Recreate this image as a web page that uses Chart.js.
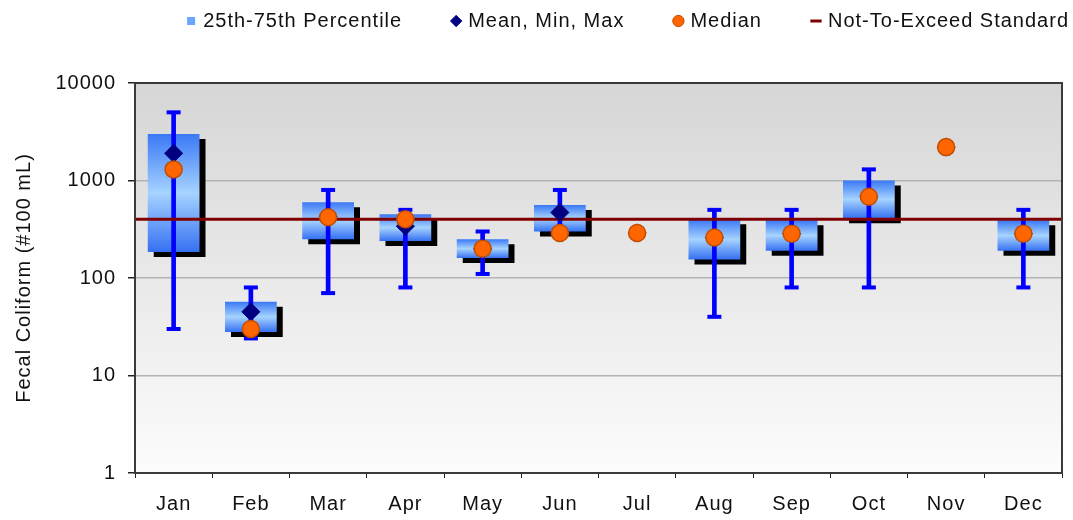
<!DOCTYPE html>
<html lang="en">
<head>
<meta charset="UTF-8">
<title>Fecal Coliform by month</title>
<style>
  html, body { margin: 0; padding: 0; background: #fff; }
  #wrap { width: 1073px; height: 520px; }
</style>
</head>
<body>
<div id="wrap"><canvas id="myChart" width="1073" height="520"></canvas></div>
<script src="https://cdn.jsdelivr.net/npm/chart.js@4.4.1/dist/chart.umd.min.js"></script>
<script>
    var months = ['Jan', 'Feb', 'Mar', 'Apr', 'May', 'Jun', 'Jul', 'Aug', 'Sep', 'Oct', 'Nov', 'Dec']
    var p25 = [185, 28, 250, 240, 160, 300, null, 155, 190, 410, null, 190]
    var p75 = [3000, 57, 600, 450, 250, 560, null, 400, 390, 1000, null, 390]
    var minVals = [30, 24, 70, 80, 110, 290, null, 40, 80, 80, null, 80]
    var maxVals = [5000, 80, 800, 500, 300, 800, null, 500, 500, 1300, null, 500]
    var means = [1900, 45, 430, 340, 200, 470, 290, 260, 285, 680, 2200, 285]
    var medians = [1300, 30, 420, 400, 200, 290, 290, 260, 285, 680, 2200, 285]
    var standard = 400
    var yTicks = [1, 10, 100, 1000, 10000]

    var FONT = "'Liberation Sans', Arial, sans-serif"
    var TXT = '#111'
    var LEG_PAD = 52

    function boxGradient(c) {
        var r = c.raw
        var chart = c.chart
        if (!r || !chart.chartArea || !chart.scales.y) return '#6aa8ff'
        var top = chart.scales.y.getPixelForValue(r[1])
        var bot = chart.scales.y.getPixelForValue(r[0])
        if (!isFinite(top) || !isFinite(bot) || top === bot) return '#6aa8ff'
        var g = chart.ctx.createLinearGradient(0, top, 0, bot)
        g.addColorStop(0, '#3a78f5')
        g.addColorStop(0.5, '#a6d3ff')
        g.addColorStop(1, '#3570f2')
        return g
    }

    var boxes = months.map((m, i) => p25[i] == null ? null : [p25[i], p75[i]])
    var whiskers = months.map((m, i) => minVals[i] == null ? null : [minVals[i], maxVals[i]])

    // frame, plot background, shadow under the boxes, legend placement
    var decor = {
        id: 'decor',
        beforeInit(chart) {
            var fit = chart.legend.fit
            chart.legend.fit = function () {
                fit.call(this)
                this.height = 83
            }
        },
        beforeLayout(chart) {
            chart.ctx.letterSpacing = '1px'
        },
        afterLayout(chart) {
            // wide gaps between legend items but keep it tight to the top/right
            chart.legend.top = 11 - LEG_PAD
            chart.legend.right = 1069 + LEG_PAD
        },
        beforeDraw(chart) {
            var a = chart.chartArea
            var ctx = chart.ctx
            ctx.letterSpacing = '1px'
            var g = ctx.createLinearGradient(0, a.top, 0, a.bottom)
            g.addColorStop(0, '#d6d6d6')
            g.addColorStop(1, '#fcfcfc')
            ctx.save()
            ctx.fillStyle = g
            ctx.fillRect(a.left, a.top, a.right - a.left, a.bottom - a.top)
            ctx.restore()
        },
        beforeDatasetDraw(chart, args) {
            if (chart.data.datasets[args.index].id !== 'box') return
            var ctx = chart.ctx
            ctx.save()
            ctx.shadowColor = '#000'
            ctx.shadowOffsetX = 6
            ctx.shadowOffsetY = 5
            ctx.shadowBlur = 0
        },
        afterDatasetDraw(chart, args) {
            if (chart.data.datasets[args.index].id !== 'box') return
            chart.ctx.restore()
        },
        afterDraw(chart) {
            var a = chart.chartArea
            var ctx = chart.ctx
            ctx.save()
            ctx.strokeStyle = '#3a3a3a'
            ctx.lineWidth = 2
            ctx.strokeRect(a.left, a.top, a.right - a.left, a.bottom - a.top)
            ctx.restore()
        }
    }

    var ctx = document.getElementById('myChart')
    var myChart = new Chart(ctx, {
        type: 'bar',
        data: {
            labels: months,
            datasets: [{
                id: 'box',
                label: '25th-75th Percentile',
                data: boxes,
                backgroundColor: boxGradient,
                borderWidth: 0,
                grouped: false,
                categoryPercentage: 1,
                barPercentage: 0.67,
                order: 5
            }, {
                label: 'whisker',
                data: whiskers,
                backgroundColor: '#0000ff',
                borderWidth: 0,
                grouped: false,
                barThickness: 4,
                order: 4
            }, {
                type: 'line',
                label: 'maxCap',
                data: maxVals,
                showLine: false,
                pointStyle: 'line',
                pointRadius: 7,
                pointBorderWidth: 4,
                pointBorderColor: '#0000ff',
                order: 3
            }, {
                type: 'line',
                label: 'minCap',
                data: minVals,
                showLine: false,
                pointStyle: 'line',
                pointRadius: 7,
                pointBorderWidth: 4,
                pointBorderColor: '#0000ff',
                order: 3
            }, {
                type: 'line',
                label: 'Not-To-Exceed Standard',
                xAxisID: 'x2',
                data: [{ x: 0, y: standard }, { x: 12, y: standard }],
                borderColor: '#800000',
                borderWidth: 3,
                pointRadius: 0,
                order: 2
            }, {
                type: 'line',
                label: 'Mean, Min, Max',
                data: means,
                showLine: false,
                pointStyle: 'rectRot',
                pointRadius: 9,
                pointBackgroundColor: '#000080',
                pointBorderColor: '#000080',
                pointBorderWidth: 1,
                order: 1
            }, {
                type: 'line',
                label: 'Median',
                data: medians,
                showLine: false,
                pointStyle: 'circle',
                pointRadius: 8.5,
                pointBackgroundColor: '#ff6600',
                pointBorderColor: '#c24d00',
                pointBorderWidth: 1.5,
                order: 0
            }]
        },
        options: {
            responsive: false,
            animation: false,
            devicePixelRatio: 1,
            layout: { padding: { left: 12, right: 7, top: 0, bottom: 0 } },
            plugins: {
                tooltip: { enabled: false },
                legend: {
                    position: 'top',
                    align: 'end',
                    labels: {
                        font: { family: FONT, size: 20 },
                        color: TXT,
                        usePointStyle: true,
                        boxWidth: 4,
                        boxHeight: 8,
                        padding: LEG_PAD,
                        generateLabels: function () {
                            return [
                                { text: '25th-75th Percentile', pointStyle: 'rect', fillStyle: '#6aa8ff', strokeStyle: '#6aa8ff', lineWidth: 0, fontColor: TXT, datasetIndex: 0 },
                                { text: 'Mean, Min, Max', pointStyle: 'rectRot', fillStyle: '#000080', strokeStyle: '#000080', lineWidth: 1, fontColor: TXT, datasetIndex: 5 },
                                { text: 'Median', pointStyle: 'circle', fillStyle: '#ff6600', strokeStyle: '#c24d00', lineWidth: 1, fontColor: TXT, datasetIndex: 6 },
                                { text: 'Not-To-Exceed Standard', pointStyle: 'line', fillStyle: '#800000', strokeStyle: '#800000', lineWidth: 3, fontColor: TXT, datasetIndex: 4 }
                            ]
                        }
                    }
                }
            },
            scales: {
                x: {
                    type: 'category',
                    offset: true,
                    afterFit: s => { s.height = 47 },
                    grid: {
                        offset: true,
                        drawOnChartArea: false,
                        drawTicks: true,
                        tickLength: 5,
                        tickColor: '#222'
                    },
                    border: { color: '#222', width: 2 },
                    ticks: { font: { family: FONT, size: 20 }, color: TXT, padding: 14 }
                },
                x2: {
                    type: 'linear',
                    display: false,
                    offset: false,
                    grid: { offset: false },
                    min: 0,
                    max: 12
                },
                y: {
                    type: 'logarithmic',
                    min: 1,
                    max: 10000,
                    afterFit: s => { s.width = 123 },
                    afterBuildTicks: s => { s.ticks = yTicks.map(v => ({ value: v })) },
                    grid: {
                        color: '#b4b4b4',
                        lineWidth: 1.5,
                        tickLength: 7,
                        tickColor: '#222'
                    },
                    border: { color: '#222', width: 2 },
                    ticks: {
                        font: { family: FONT, size: 20 },
                        color: TXT,
                        padding: 12,
                        callback: v => String(v)
                    },
                    title: {
                        display: true,
                        text: 'Fecal Coliform (#100 mL)',
                        font: { family: FONT, size: 20 },
                        color: TXT,
                        padding: { top: 0, bottom: 4 }
                    }
                }
            }
        },
        plugins: [decor]
    })
</script>
</body>
</html>
